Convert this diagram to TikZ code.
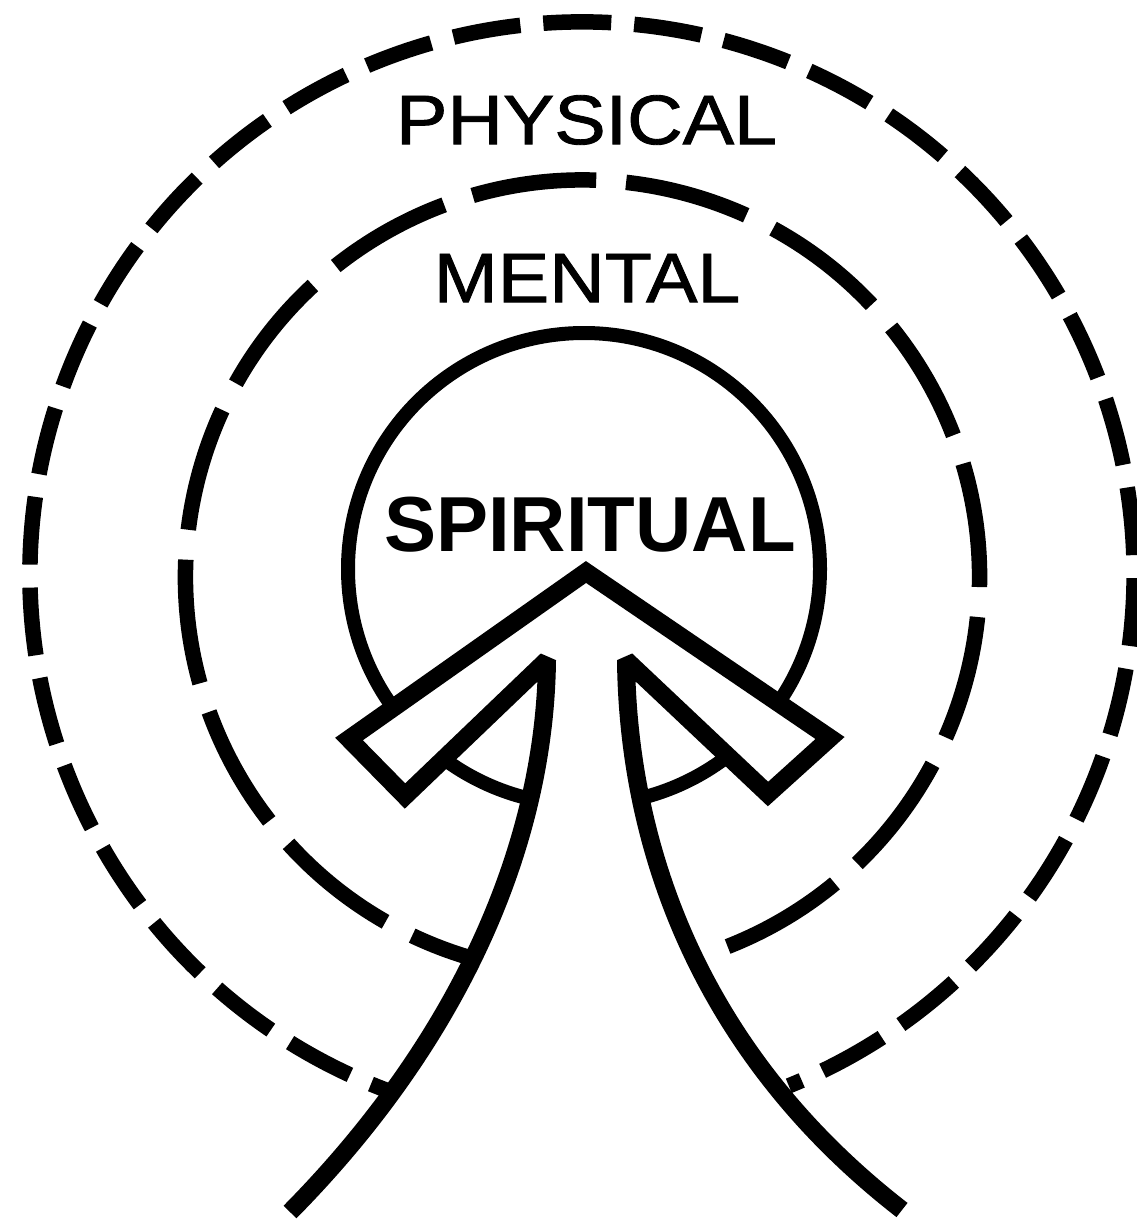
\documentclass[tikz,border=0pt]{standalone}
\usepackage{fontspec}
\usepackage{graphicx}
\setmainfont{Liberation Sans}
\newfontfamily\ringfont[FakeBold=1.2]{Liberation Sans}
\begin{document}
\begin{tikzpicture}[x=1pt,y=1pt,
  ring/.style={line width=15.5pt, black},
  outerring/.style={ring, dash pattern=on 68pt off 23pt, dash phase=48pt},
  midring/.style={ring, dash pattern=on 125pt off 30pt, dash phase=55pt},
  arrowline/.style={line width=18pt, line join=miter, miter limit=1.8},
  lbl/.style={inner sep=0pt, font=\ringfont\fontsize{70}{84}\selectfont}]
\useasboundingbox (0,0) rectangle (1137,-1229);
\fill[white] (0,0) rectangle (1137,-1229);
% circle centres
\coordinate (co) at (582,-574);
\coordinate (cm) at (582.5,-577);
\coordinate (ci) at (584,-569);
% dashed rings
\draw[outerring] ([shift={(-110.4:552)}]co) arc[start angle=-110.4, end angle=-428, radius=552];
\draw[midring] ([shift={(-105.3:397)}]cm) arc[start angle=-105.3, end angle=-429.2, radius=397];
% inner solid circle
\draw[line width=14pt] (ci) circle[radius=236];
% arrow points
\coordinate (A) at (586,-572);
\coordinate (LW1) at (349,-739);
\coordinate (LW2) at (405,-796);
\coordinate (LS) at (547,-660);
\coordinate (LB) at (290,-1212);
\coordinate (RW1) at (830,-738);
\coordinate (RW2) at (768,-794);
\coordinate (RS) at (626,-660);
\coordinate (RB) at (902,-1210);
% white body of the arrow
\fill[white] (LB) .. controls (455,-1045) and (545,-850) .. (LS) -- (LW2) -- (LW1) -- (A)
  -- (RW1) -- (RW2) -- (RS) .. controls (628,-850) and (702,-1055) .. (RB) -- cycle;
% arrow outline
\draw[arrowline] (LB) .. controls (455,-1045) and (545,-850) .. (LS) -- (LW2) -- (LW1) -- (A)
  -- (RW1) -- (RW2) -- (RS) .. controls (628,-850) and (702,-1055) .. (RB);
% labels
\node[lbl] (phys) at (586.5,-120) {\scalebox{1.1}[1]{PHYSICAL}};
\node[lbl] (ment) at (587,-278) {\scalebox{1.1}[1]{MENTAL}};
\node[lbl, font=\fontsize{78}{90}\selectfont\bfseries] (spir) at (590,-525) {SPIRITUAL};
\end{tikzpicture}
\end{document}
